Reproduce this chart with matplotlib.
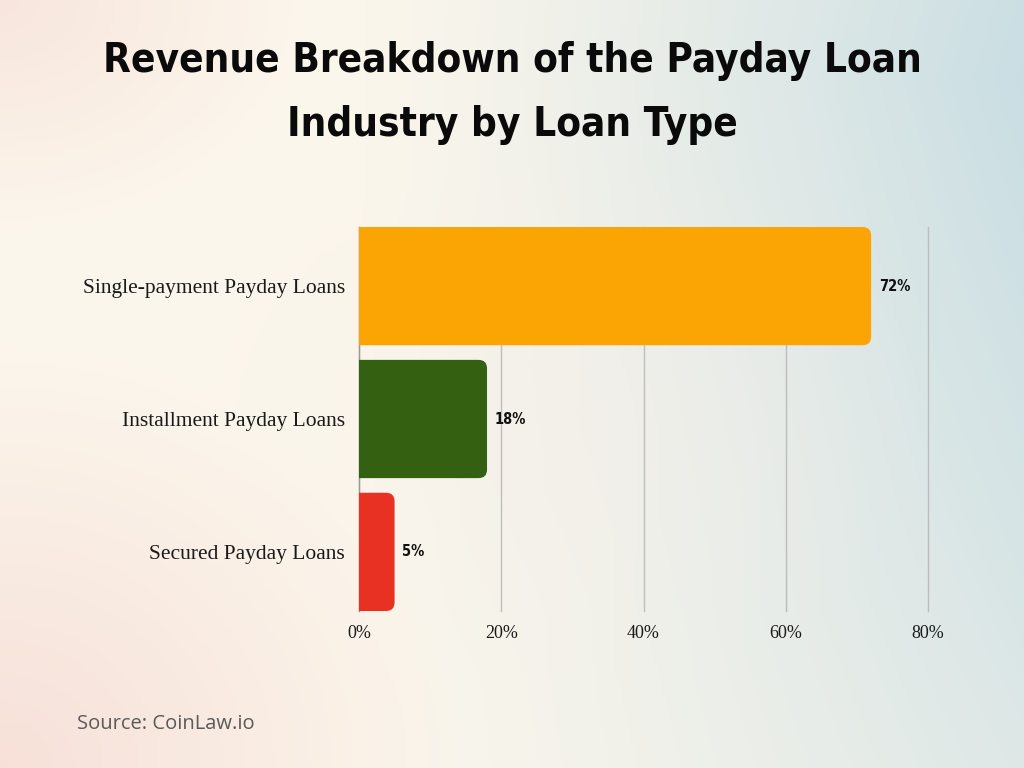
import numpy as np
import matplotlib
matplotlib.use("Agg")
import matplotlib.pyplot as plt
from matplotlib.patches import FancyBboxPatch
from matplotlib.ticker import FuncFormatter

categories = ["Single-payment Payday Loans", "Installment Payday Loans", "Secured Payday Loans"]
values = [72, 18, 5]
value_labels = ["72%", "18%", "5%"]
bar_colors = ["#FBA504", "#336111", "#E83123"]
x_ticks = [0, 20, 40, 60, 80]
title = "Revenue Breakdown of the Payday Loan\nIndustry by Loan Type"
source = "Source: CoinLaw.io"

W, H = 1024, 768
fig = plt.figure(figsize=(W / 100, H / 100), dpi=100)

# background gradient
bg = fig.add_axes([0, 0, 1, 1], zorder=-10)
bg.set_axis_off()
yy, xx = np.mgrid[0:1:200j, 0:1:260j]  # yy: 0 top -> 1 bottom
cream = np.array([0.985, 0.965, 0.925])
blue = np.array([0.79, 0.87, 0.89])
pink = np.array([0.965, 0.86, 0.83])
img = np.ones(yy.shape + (3,)) * cream
wb = np.clip((xx - 0.35) / 0.65, 0, 1) ** 1.2 * (0.55 + 0.45 * (1 - np.abs(yy - 0.1)))
wb = np.clip(wb, 0, 1)
wp = np.clip(1 - np.hypot(xx / 0.45, (1 - yy) / 0.55), 0, 1) * 0.8 \
    + np.clip(1 - np.hypot(xx / 0.3, yy / 0.3), 0, 1) * 0.6
wp = np.clip(wp, 0, 1)
img = img * (1 - wb[..., None]) + blue * wb[..., None]
img = img * (1 - wp[..., None]) + pink * wp[..., None]
mid = np.clip(1 - np.hypot((xx - 0.55) / 0.35, (yy - 0.55) / 0.35), 0, 1)
img = img * (1 - 0.4 * mid[..., None]) + np.array([0.965, 0.935, 0.915]) * 0.4 * mid[..., None]
bg.imshow(img, aspect="auto", extent=[0, 1, 0, 1], transform=bg.transAxes)

ax = fig.add_axes([359 / W, 1 - 611 / H, (928 - 359) / W, (611 - 227) / H])
ax.patch.set_alpha(0)
ypos = np.arange(len(categories))
height = 0.89
bars = ax.barh(ypos, values, height=height, color=bar_colors)
ax.set_xlim(0, 80)
ax.set_ylim(len(categories) - 0.5 - 0.055, -0.5 + 0.055)

# rounded bars built from the bar geometry
xpp = 80 / 569.0
ypp = (ax.get_ylim()[0] - ax.get_ylim()[1]) / 384.0
aspect = ypp / xpp
for b, c in zip(bars, bar_colors):
    b.set_visible(False)
    x0, y0, w, h = b.get_x(), b.get_y(), b.get_width(), b.get_height()
    p = FancyBboxPatch((x0 - 3, y0), w + 3, h,
                       boxstyle="round,pad=0,rounding_size=1.2",
                       mutation_aspect=aspect, facecolor=c, edgecolor="none",
                       zorder=3, clip_on=True)
    ax.add_patch(p)

for yv, v, lab in zip(ypos, values, value_labels):
    ax.text(v + 1.1, yv, lab, va="center", ha="left", fontsize=10.5,
            fontweight="bold", color="#111111", family="DejaVu Sans", stretch="condensed")

ax.set_xticks(x_ticks)
ax.xaxis.set_major_formatter(FuncFormatter(lambda v, p: f"{int(v)}%"))
ax.set_yticks(ypos)
ax.set_yticklabels(categories)
ax.tick_params(axis="both", length=0, labelcolor="#1a1a1a")
ax.tick_params(axis="x", pad=10, labelsize=13)
ax.tick_params(axis="y", pad=10, labelsize=15.5)
for lbl in ax.get_xticklabels() + ax.get_yticklabels():
    lbl.set_family("Liberation Serif")
    lbl.set_stretch("normal")
ax.grid(axis="x", color="#bdbdbd", linewidth=1)
for gl in ax.get_xgridlines():
    gl.set_clip_on(False)
ax.set_axisbelow(True)
for s in ["top", "right", "bottom"]:
    ax.spines[s].set_visible(False)
ax.spines["left"].set_color("#9a9a9a")
ax.spines["left"].set_linewidth(1)

fig.text(0.5, 1 - 93 / H, title, ha="center", va="center", fontsize=29,
         fontweight="bold", color="#0a0a0a", family="DejaVu Sans", stretch="condensed",
         linespacing=1.75)
fig.text(77 / W, 1 - 724 / H, source, ha="left", va="center", fontsize=14.5,
         color="#5a5a5a", family="Open Sans", stretch="normal", weight="normal")

fig.savefig("out.png", dpi=100)
